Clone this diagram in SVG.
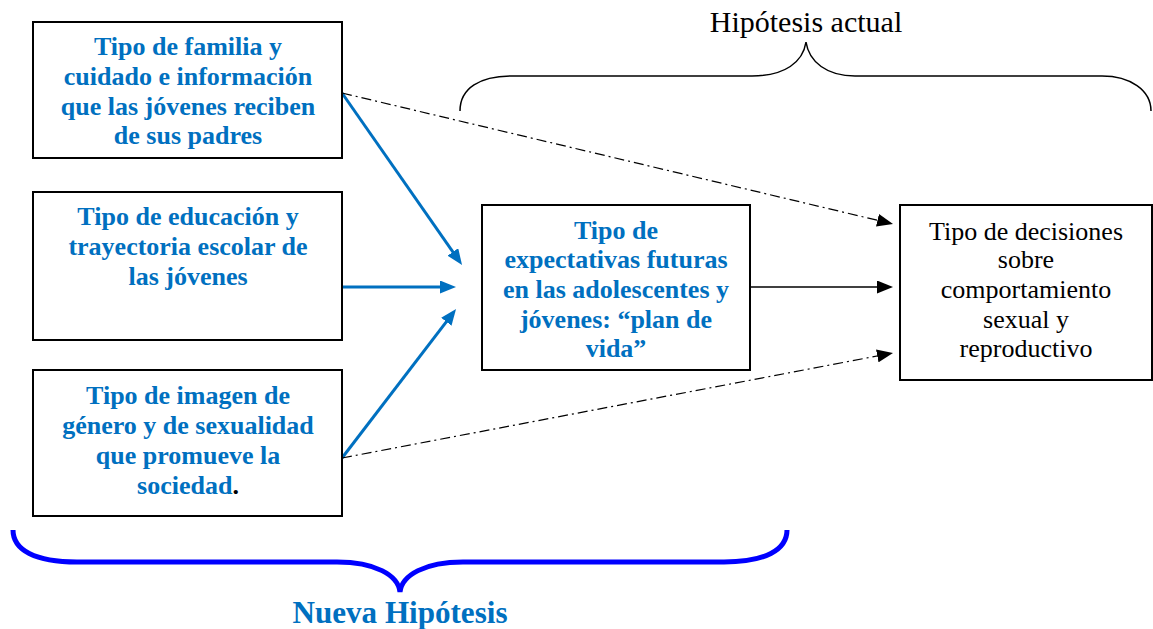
<svg xmlns="http://www.w3.org/2000/svg" width="1153" height="629" viewBox="0 0 1153 629">
  <style>
    .box { fill: #ffffff; stroke: #000000; stroke-width: 2; }
    .blue { font-family: "Liberation Serif", "Times New Roman", serif; font-size: 26px; font-weight: bold; fill: #0070c0; text-anchor: middle; }
    .plain { font-family: "Liberation Serif", "Times New Roman", serif; font-size: 26px; fill: #000000; text-anchor: middle; }
    .blue-arrow { stroke: #0070c0; stroke-width: 3; fill: none; marker-end: url(#head-blue); }
    .dashdot { stroke: #000000; stroke-width: 1.2; fill: none; stroke-dasharray: 10 4 2 4; marker-end: url(#head-black); }
    .solid { stroke: #000000; stroke-width: 1.6; fill: none; marker-end: url(#head-black); }
  </style>
  <defs>
    <marker id="head-blue" markerUnits="userSpaceOnUse" markerWidth="16" markerHeight="13" refX="10" refY="6.5" orient="auto">
      <path d="M0,0 L16,6.5 L0,13 Z" fill="#0070c0"/>
    </marker>
    <marker id="head-black" markerUnits="userSpaceOnUse" markerWidth="16" markerHeight="13" refX="10" refY="6.5" orient="auto">
      <path d="M0,0 L16,6.5 L0,13 Z" fill="#000000"/>
    </marker>
  </defs>

  <rect width="1153" height="629" fill="#ffffff"/>

  <!-- Brace over the current hypothesis -->
  <g id="hipotesis-actual">
    <path d="M460,111 C460,88 480,76 512,76 L752,76 C785,76 803,62 806,42 C809,62 827,76 855,76 L1102,76 C1130,76 1151,90 1151,111" fill="none" stroke="#000" stroke-width="1.5"/>
    <text class="plain" x="806" y="32" style="font-size:30px">Hipótesis actual</text>
  </g>

  <!-- Brace under the new hypothesis -->
  <g id="nueva-hipotesis">
    <path d="M13,530 C13,550 35,562 77,562 L337,562 C375,562 398,575 400,592 C402,575 425,562 463,562 L724,562 C765,562 787,550 787,530" fill="none" stroke="#0000ff" stroke-width="5"/>
    <text class="blue" x="400" y="623" style="font-size:31px" textLength="215" lengthAdjust="spacingAndGlyphs">Nueva Hipótesis</text>
  </g>

  <!-- Connectors -->
  <g id="connectors">
    <line class="blue-arrow" x1="342" y1="93" x2="458.6" y2="260.1"/>
    <line class="blue-arrow" x1="342" y1="287" x2="450" y2="287"/>
    <line class="blue-arrow" x1="342" y1="458" x2="452.4" y2="313.8"/>
    <line class="dashdot" x1="342" y1="93" x2="887.2" y2="222.6"/>
    <line class="solid" x1="750" y1="287" x2="887" y2="287"/>
    <line class="dashdot" x1="342" y1="458" x2="887.1" y2="354.1"/>
  </g>

  <g id="familia">
    <rect class="box" x="33" y="22" width="309" height="136"/>
    <text class="blue" x="188" y="55">Tipo de familia y</text>
    <text class="blue" x="188" y="85">cuidado e información</text>
    <text class="blue" x="188" y="115">que las jóvenes reciben</text>
    <text class="blue" x="188" y="144">de sus padres</text>
  </g>

  <g id="educacion">
    <rect class="box" x="33" y="192" width="309" height="148"/>
    <text class="blue" x="188" y="225">Tipo de educación y</text>
    <text class="blue" x="188" y="255">trayectoria escolar de</text>
    <text class="blue" x="188" y="285">las jóvenes</text>
  </g>

  <g id="imagen-genero">
    <rect class="box" x="33" y="370" width="309" height="146"/>
    <text class="blue" x="188" y="404">Tipo de imagen de</text>
    <text class="blue" x="188" y="434">género y de sexualidad</text>
    <text class="blue" x="188" y="464">que promueve la</text>
    <text class="blue" x="188" y="494">sociedad<tspan fill="#000000">.</tspan></text>
  </g>

  <g id="expectativas">
    <rect class="box" x="482" y="205" width="268" height="165"/>
    <text class="blue" x="616" y="239">Tipo de</text>
    <text class="blue" x="616" y="268">expectativas futuras</text>
    <text class="blue" x="616" y="298">en las adolescentes y</text>
    <text class="blue" x="616" y="328">jóvenes: “plan de</text>
    <text class="blue" x="616" y="357">vida”</text>
  </g>

  <g id="decisiones">
    <rect class="box" x="900" y="205" width="252" height="175"/>
    <text class="plain" x="1026" y="240">Tipo de decisiones</text>
    <text class="plain" x="1026" y="268">sobre</text>
    <text class="plain" x="1026" y="298">comportamiento</text>
    <text class="plain" x="1026" y="328">sexual y</text>
    <text class="plain" x="1026" y="357">reproductivo</text>
  </g>
</svg>
